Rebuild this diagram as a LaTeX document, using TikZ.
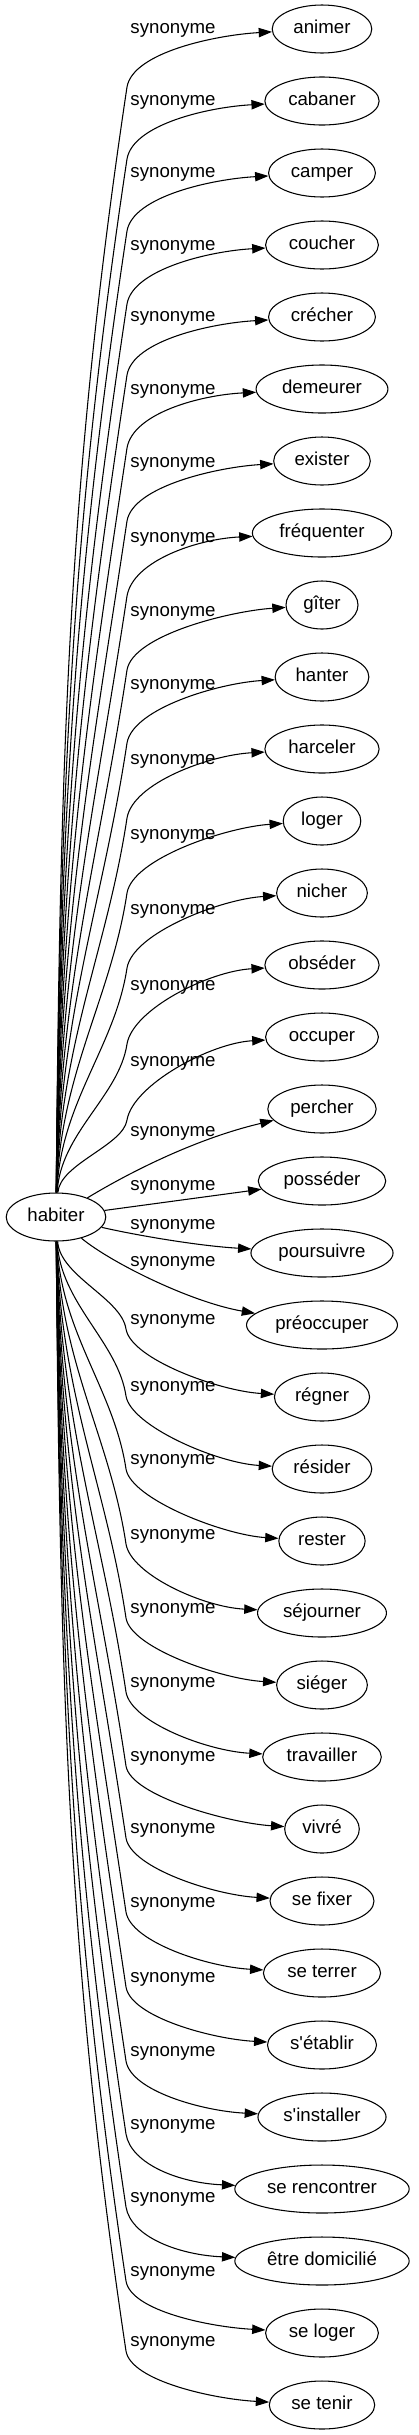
\documentclass[tikz,border=0pt]{standalone}
\usepackage{fontspec}
\setmainfont{Liberation Sans}[Ligatures=TeXOff]
\usetikzlibrary{arrows.meta,shapes.geometric,calc}
\begin{document}
\begin{tikzpicture}[x=0.75pt,y=-0.75pt,
  word/.style={ellipse,draw,line width=0.8pt,inner xsep=5pt,inner ysep=2pt,
    minimum height=36pt,minimum width=54pt,text height=10pt,text depth=3pt,
    font=\fontsize{14pt}{16pt}\selectfont},
  lab/.style={inner sep=0pt,text height=10pt,text depth=3pt,
    font=\fontsize{14pt}{16pt}\selectfont},
  edge/.style={line width=0.8pt,-{Triangle[length=10pt,width=7pt]}}]
\useasboundingbox (0,0) rectangle (418,2435);
\node[word] (h) at (56,1217) {habiter};
% upper edges
\foreach \i/\w/\yt/\yl in {0/animer/29/29,1/cabaner/101/101,2/camper/173/173,
  3/coucher/245/246,4/crécher/317/317,5/demeurer/389/390,6/exister/461/463,
  7/fréquenter/533/538,8/gîter/605/612,9/hanter/677/685,10/harceler/749/760,
  11/loger/821/835,12/nicher/893/910,13/obséder/965/986,14/occuper/1037/1062}{
  \node[word] (t\i) at (322,\yt) {\w};
  \node[lab] (l\i) at (173,\yl) {synonyme};
  \pgfmathsetmacro\yb{\yl+58}
  \pgfmathsetmacro\L{1193-\yb}
  \pgfmathsetmacro\pa{1193-0.4*\L}
  \pgfmathsetmacro\px{127-0.0525*\L}
  \pgfmathsetmacro\pb{\yb+0.35*\L}
  \pgfmathsetmacro\qa{\yb-35}
  \coordinate (b\i) at (127,\yb);
  \draw[edge] (h) .. controls (60,\pa) and (\px,\pb) .. (b\i)
    .. controls (133,\qa) and ($(t\i.west)+(-55,6)$) .. (t\i);
}
% middle edges
\node[word] (t15) at (322,1109) {percher};
\node[lab] (l15) at (173,1132) {synonyme};
\draw[edge] (h) .. controls (120,1178) and (190,1140) .. (t15);
\node[word] (t16) at (322,1181) {posséder};
\node[lab] (l16) at (173,1186) {synonyme};
\draw[edge] (h) -- (t16);
\node[word] (t17) at (322,1253) {poursuivre};
\node[lab] (l17) at (173,1225) {synonyme};
\draw[edge] (h) .. controls (140,1236) and (200,1246) .. (t17);
\node[word] (t18) at (322,1325) {préoccuper};
\node[lab] (l18) at (173,1262) {synonyme};
\draw[edge] (h) .. controls (110,1262) and (190,1302) .. (t18);
% lower edges
\foreach \i/\w/\yt/\yl in {19/régner/1397/1320,20/résider/1469/1387,
  21/rester/1541/1460,22/séjourner/1613/1535,23/siéger/1685/1609,
  24/travailler/1757/1683,25/vivré/1829/1757,26/se fixer/1901/1829,
  27/se terrer/1973/1903,28/s'établir/2045/1978,29/s'installer/2117/2052,
  30/se rencontrer/2189/2125,31/être domicilié/2261/2198,
  32/se loger/2333/2272,33/se tenir/2405/2342}{
  \node[word] (t\i) at (322,\yt) {\w};
  \node[lab] (l\i) at (173,\yl) {synonyme};
  \pgfmathsetmacro\yb{\yl+9}
  \pgfmathsetmacro\L{\yb-1241}
  \pgfmathsetmacro\pa{1241+0.4*\L}
  \pgfmathsetmacro\px{126-0.0525*\L}
  \pgfmathsetmacro\pb{\yb-0.35*\L}
  \pgfmathsetmacro\qa{\yb+30}
  \coordinate (b\i) at (126,\yb);
  \draw[edge] (h) .. controls (60,\pa) and (\px,\pb) .. (b\i)
    .. controls (131,\qa) and ($(t\i.west)+(-55,-6)$) .. (t\i);
}
\end{tikzpicture}
\end{document}
